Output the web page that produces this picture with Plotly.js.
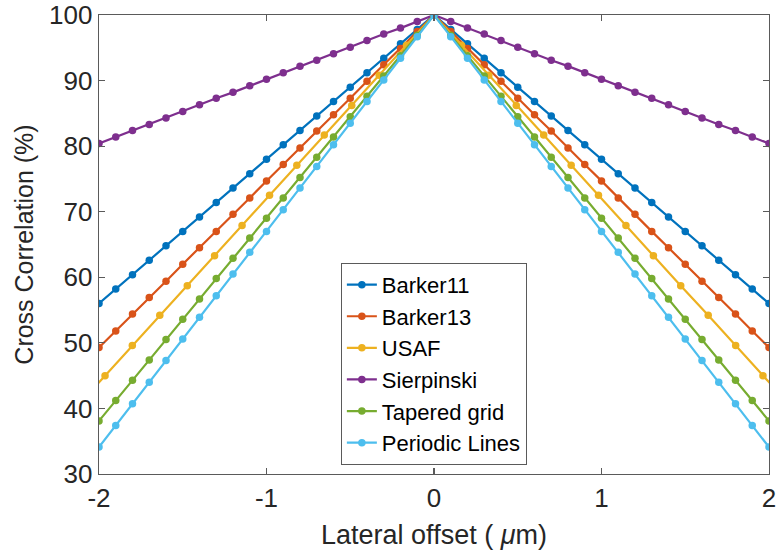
<!DOCTYPE html>
<html>
<head>
<meta charset="utf-8">
<script src="https://cdn.plot.ly/plotly-3.0.1.min.js"></script>
<style>
  html, body { margin: 0; padding: 0; background: #ffffff; }
  #chart { width: 778px; height: 555px; }
</style>
</head>
<body>
<div id="chart"></div>
<script>
// Lateral offset positions (µm), 0.1 µm steps
const offset = [-2.0, -1.9, -1.8, -1.7, -1.6, -1.5, -1.4, -1.3, -1.2, -1.1,
  -1.0, -0.9, -0.8, -0.7, -0.6, -0.5, -0.4, -0.3, -0.2, -0.1, 0.0,
  0.1, 0.2, 0.3, 0.4, 0.5, 0.6, 0.7, 0.8, 0.9, 1.0,
  1.1, 1.2, 1.3, 1.4, 1.5, 1.6, 1.7, 1.8, 1.9, 2.0];

// USAF target is sampled on its own pixel pitch
const offsetUSAF = [-2.128, -1.964, -1.801, -1.637, -1.473, -1.310, -1.146, -0.982, -0.819,
  -0.655, -0.491, -0.327, -0.164, 0.0, 0.164, 0.327, 0.491, 0.655, 0.819, 0.982,
  1.146, 1.310, 1.473, 1.637, 1.801, 1.964, 2.128];

// Cross correlation (%)
const barker11 = [56.0, 58.2, 60.4, 62.6, 64.8, 67.0, 69.2, 71.4, 73.6, 75.8,
  78.0, 80.2, 82.4, 84.6, 86.8, 89.0, 91.2, 93.4, 95.6, 97.8, 100,
  97.8, 95.6, 93.4, 91.2, 89.0, 86.8, 84.6, 82.4, 80.2, 78.0,
  75.8, 73.6, 71.4, 69.2, 67.0, 64.8, 62.6, 60.4, 58.2, 56.0];

const barker13 = [49.3, 51.8, 54.4, 56.9, 59.4, 62.0, 64.5, 67.0, 69.6, 72.1,
  74.7, 77.2, 79.7, 82.3, 84.8, 87.3, 89.9, 92.4, 94.9, 97.5, 100,
  97.5, 94.9, 92.4, 89.9, 87.3, 84.8, 82.3, 79.7, 77.2, 74.7,
  72.1, 69.6, 67.0, 64.5, 62.0, 59.4, 56.9, 54.4, 51.8, 49.3];

const usaf = [40.4, 45.0, 49.6, 54.2, 58.7, 63.3, 67.9, 72.5, 77.1,
  81.7, 86.2, 90.8, 95.4, 100, 95.4, 90.8, 86.2, 81.7, 77.1, 72.5,
  67.9, 63.3, 58.7, 54.2, 49.6, 45.0, 40.4];

const sierpinski = [80.4, 81.4, 82.4, 83.3, 84.3, 85.3, 86.3, 87.3, 88.2, 89.2,
  90.2, 91.2, 92.2, 93.1, 94.1, 95.1, 96.1, 97.1, 98.0, 99.0, 100,
  99.0, 98.0, 97.1, 96.1, 95.1, 94.1, 93.1, 92.2, 91.2, 90.2,
  89.2, 88.2, 87.3, 86.3, 85.3, 84.3, 83.3, 82.4, 81.4, 80.4];

const taperedGrid = [38.1, 41.2, 44.3, 47.4, 50.5, 53.6, 56.7, 59.8, 62.9, 66.0,
  69.0, 72.1, 75.2, 78.3, 81.4, 84.5, 87.6, 90.7, 93.8, 96.9, 100,
  96.9, 93.8, 90.7, 87.6, 84.5, 81.4, 78.3, 75.2, 72.1, 69.0,
  66.0, 62.9, 59.8, 56.7, 53.6, 50.5, 47.4, 44.3, 41.2, 38.1];

const periodicLines = [34.1, 37.4, 40.7, 44.0, 47.3, 50.6, 53.9, 57.2, 60.5, 63.8,
  67.0, 70.3, 73.6, 76.9, 80.2, 83.5, 86.8, 90.1, 93.4, 96.7, 100,
  96.7, 93.4, 90.1, 86.8, 83.5, 80.2, 76.9, 73.6, 70.3, 67.0,
  63.8, 60.5, 57.2, 53.9, 50.6, 47.3, 44.0, 40.7, 37.4, 34.1];

const seriesNames = ['Barker11', 'Barker13', 'USAF', 'Sierpinski', 'Tapered grid', 'Periodic Lines'];
const seriesColors = ['#0072BD', '#D95319', '#EDB120', '#7E2F8E', '#77AC30', '#4DBEEE'];
const seriesX = [offset, offset, offsetUSAF, offset, offset, offset];
const seriesY = [barker11, barker13, usaf, sierpinski, taperedGrid, periodicLines];

const xTicks = [-2, -1, 0, 1, 2];
const yTicks = [30, 40, 50, 60, 70, 80, 90, 100];

const FONT = 'Liberation Sans, Arial, Helvetica, sans-serif';
const TEXT = '#262626';

const traces = seriesNames.map((name, i) => ({
  type: 'scatter',
  mode: 'lines+markers',
  name: name,
  x: seriesX[i],
  y: seriesY[i],
  line: { color: seriesColors[i], width: 2.2 },
  marker: { color: seriesColors[i], size: 7.5, symbol: 'circle' },
  cliponaxis: true
}));

const axisCommon = {
  showgrid: false,
  zeroline: false,
  showline: true,
  linecolor: '#5a5a5a',
  linewidth: 1.3,
  mirror: 'ticks',
  ticks: 'inside',
  ticklen: 6,
  tickwidth: 1.2,
  tickcolor: '#5a5a5a',
  tickfont: { family: FONT, size: 26, color: TEXT }
};

const layout = {
  width: 778,
  height: 555,
  margin: { l: 99, r: 9, t: 15, b: 81, pad: 0 },
  paper_bgcolor: '#ffffff',
  plot_bgcolor: '#ffffff',
  showlegend: true,
  xaxis: Object.assign({}, axisCommon, {
    range: [-2, 2],
    tickvals: xTicks,
    ticktext: xTicks.map(String),
    title: { text: 'Lateral offset ( <i>μ</i>m)', font: { family: FONT, size: 27, color: TEXT }, standoff: 13 },
    automargin: false
  }),
  yaxis: Object.assign({}, axisCommon, {
    range: [30, 100],
    tickvals: yTicks,
    ticktext: yTicks.map(String),
    title: { text: 'Cross Correlation (%)', font: { family: FONT, size: 25, color: TEXT }, standoff: 8 },
    automargin: false
  }),
  legend: {
    x: 0.361, y: 0.240, xanchor: 'left', yanchor: 'middle',
    bgcolor: '#ffffff',
    bordercolor: '#5a5a5a',
    borderwidth: 1,
    font: { family: FONT, size: 22, color: '#000000' },
    itemwidth: 30,
    tracegroupgap: 0
  }
};

Plotly.newPlot('chart', traces, layout, { staticPlot: true, displayModeBar: false });
</script>
</body>
</html>
